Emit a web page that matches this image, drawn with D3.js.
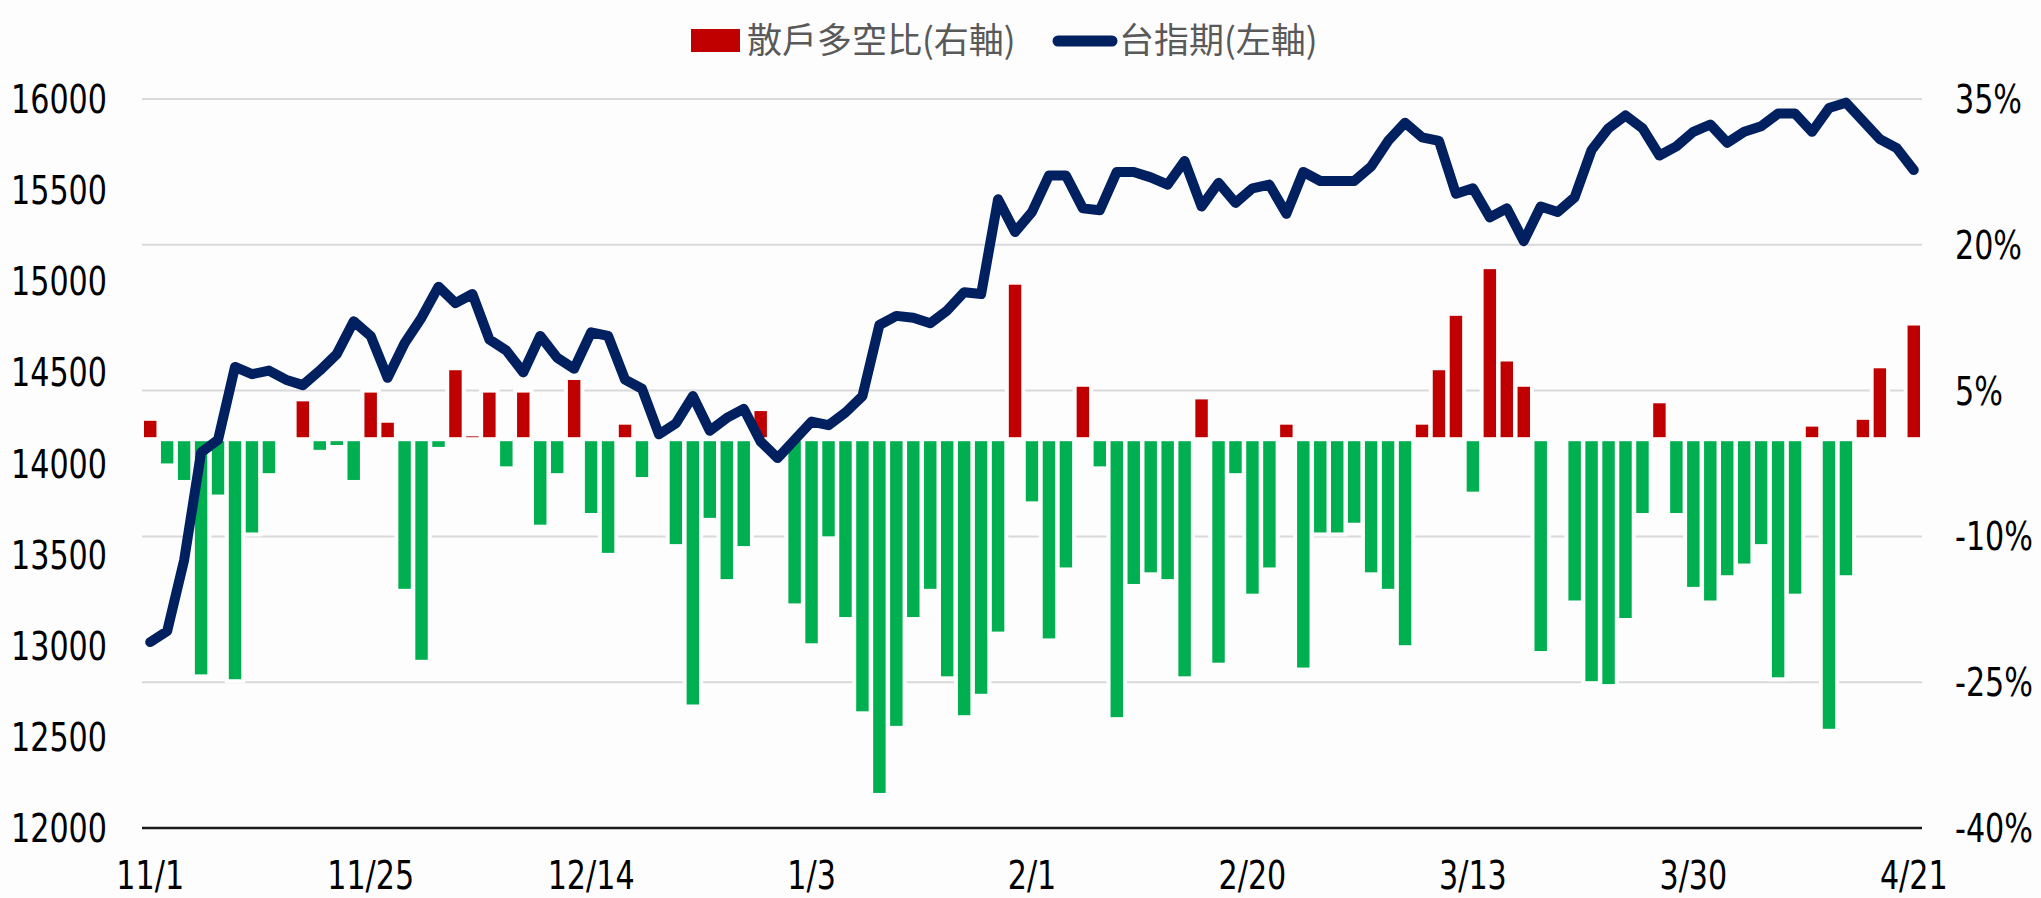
<!DOCTYPE html>
<html>
<head>
<meta charset="utf-8">
<script src="https://cdn.jsdelivr.net/npm/d3@7"></script>
<style>
  body { margin: 0; background: #fdfdfd; }
  svg { display: block; }
  .num { font-family: "Liberation Sans Narrow", "DejaVu Sans Condensed", sans-serif; font-size: 39px; fill: #000; }
  .leg { font-family: "Noto Sans CJK TC", sans-serif; font-size: 35px; fill: #595959; }
</style>
</head>
<body>
<svg id="vis"></svg>
<script>
// 散戶多空比 (%), right axis
const ratio = [
  2.1, -2.7, -4.4, -24.4, -5.9, -24.9, -9.8, -3.7, 0.4, 4.1,
  -1.3, -0.8, -4.4, 5.0, 1.9, -15.6, -22.9, -1.0, 7.3, 0.5,
  5.0, -3.0, 5.0, -9.0, -3.7, 6.3, -7.8, -11.9, 1.7, -4.1,
  0, -11.0, -27.5, -8.3, -14.6, -11.2, 3.1, 0, -17.1, -21.2,
  -10.2, -18.5, -28.2, -36.6, -29.7, -18.5, -15.6, -24.6, -28.6, -26.4,
  -20.0, 16.1, -6.6, -20.7, -13.4, 5.6, -3.0, -28.8, -15.1, -13.9,
  -14.6, -24.6, 4.3, -23.2, -3.7, -16.1, -13.4, 1.7, -23.7, -9.8,
  -9.8, -8.8, -13.9, -15.6, -21.4, 1.7, 7.3, 12.9, -5.6, 17.7,
  8.2, 5.6, -22.0, 0, -16.8, -25.1, -25.4, -18.6, -7.8, 3.9,
  -7.8, -15.4, -16.8, -14.2, -13.0, -11.0, -24.7, -16.1, 1.5, -30.0,
  -14.2, 2.2, 7.5, 0, 11.9
];

// 台指期, left axis
const futures = [
  13020, 13080, 13470, 14060, 14130, 14530, 14490, 14510, 14460, 14430,
  14510, 14600, 14780, 14700, 14470, 14660, 14800, 14970, 14880, 14930,
  14680, 14620, 14500, 14700, 14580, 14520, 14720, 14700, 14460, 14410,
  14160, 14220, 14370, 14180, 14250, 14300, 14120, 14030, 14130, 14230,
  14210, 14280, 14370, 14760, 14810, 14800, 14770, 14840, 14940, 14930,
  15450, 15270, 15380, 15580, 15580, 15400, 15390, 15600, 15600, 15570,
  15530, 15660, 15410, 15540, 15430, 15510, 15530, 15370, 15600, 15550,
  15550, 15550, 15630, 15770, 15870, 15790, 15770, 15480, 15510, 15350,
  15400, 15220, 15410, 15380, 15460, 15720, 15840, 15910, 15840, 15690,
  15740, 15820, 15860, 15760, 15820, 15850, 15920, 15920, 15820, 15950,
  15980, 15880, 15780, 15730, 15610
];

const tickLabels = ['11/1', '11/25', '12/14', '1/3', '2/1', '2/20', '3/13', '3/30', '4/21'];
const labelStep = 13;
const leftTicks = [16000, 15500, 15000, 14500, 14000, 13500, 13000, 12500, 12000];
const rightTicks = [35, 20, 5, -10, -25, -40];

const width = 2041, height = 898;
const plot = { left: 142, right: 1922, top: 99, bottom: 828 };
const squeeze = 0.86; // narrow look of the axis font

const svg = d3.select("#vis").attr("width", width).attr("height", height);

const idx = d3.range(ratio.length);
const x = d3.scaleBand().domain(idx).range([plot.left, plot.right]).paddingInner(0.03).paddingOuter(0);
const cx = i => x(i) + x.bandwidth() / 2;
const yL = d3.scaleLinear().domain([12000, 16000]).range([plot.bottom, plot.top]);
const yR = d3.scaleLinear().domain([-40, 35]).range([plot.bottom, plot.top]);

// gridlines
svg.append("g")
  .selectAll("line")
  .data(rightTicks.slice(0, -1))
  .enter()
  .append("line")
  .attr("x1", plot.left).attr("x2", plot.right)
  .attr("y1", d => yR(d)).attr("y2", d => yR(d))
  .attr("stroke", "#d9d9d9")
  .attr("stroke-width", 2);

// bars
const bw = x.step() * 0.97;
svg.append("g")
  .selectAll("rect")
  .data(idx.filter(i => ratio[i] !== 0))
  .enter()
  .append("rect")
  .attr("x", i => cx(i) - bw / 2)
  .attr("width", bw)
  .attr("y", i => yR(Math.max(0, ratio[i])))
  .attr("height", i => Math.abs(yR(ratio[i]) - yR(0)))
  .attr("fill", i => ratio[i] > 0 ? "#c00000" : "#00b050")
  .attr("stroke", "#fdfdfd")
  .attr("stroke-width", 4);

// bottom axis line
svg.append("line")
  .attr("x1", plot.left).attr("x2", plot.right)
  .attr("y1", plot.bottom).attr("y2", plot.bottom)
  .attr("stroke", "#1a1a1a")
  .attr("stroke-width", 2.5);

// futures line
const line = d3.line().x((d, i) => cx(i)).y(d => yL(d));
svg.append("path")
  .datum(futures)
  .attr("d", line)
  .attr("fill", "none")
  .attr("stroke", "#002060")
  .attr("stroke-width", 10)
  .attr("stroke-linejoin", "round")
  .attr("stroke-linecap", "round");

// axes labels
svg.append("g")
  .selectAll("text")
  .data(leftTicks)
  .enter()
  .append("text")
  .attr("class", "num")
  .attr("transform", d => `translate(107,${yL(d)}) scale(${squeeze},1)`)
  .attr("dy", "0.36em")
  .attr("text-anchor", "end")
  .text(d => d);

svg.append("g")
  .selectAll("text")
  .data(rightTicks)
  .enter()
  .append("text")
  .attr("class", "num")
  .attr("transform", d => `translate(1955,${yR(d)}) scale(${squeeze},1)`)
  .attr("dy", "0.36em")
  .text(d => d + "%");

svg.append("g")
  .selectAll("text")
  .data(tickLabels)
  .enter()
  .append("text")
  .attr("class", "num")
  .attr("transform", (d, k) => `translate(${cx(k * labelStep)},889) scale(${squeeze},1)`)
  .attr("text-anchor", "middle")
  .text(d => d);

// legend
const legend = svg.append("g");
legend.append("rect")
  .attr("x", 691).attr("y", 29).attr("width", 49).attr("height", 23)
  .attr("fill", "#c00000");
legend.append("text")
  .attr("class", "leg")
  .attr("x", 747).attr("y", 40).attr("dy", "0.36em")
  .text("散戶多空比(右軸)");
legend.append("line")
  .attr("x1", 1058).attr("x2", 1112).attr("y1", 41).attr("y2", 41)
  .attr("stroke", "#002060").attr("stroke-width", 11).attr("stroke-linecap", "round");
legend.append("text")
  .attr("class", "leg")
  .attr("x", 1119).attr("y", 40).attr("dy", "0.36em")
  .text("台指期(左軸)");
</script>
</body>
</html>
